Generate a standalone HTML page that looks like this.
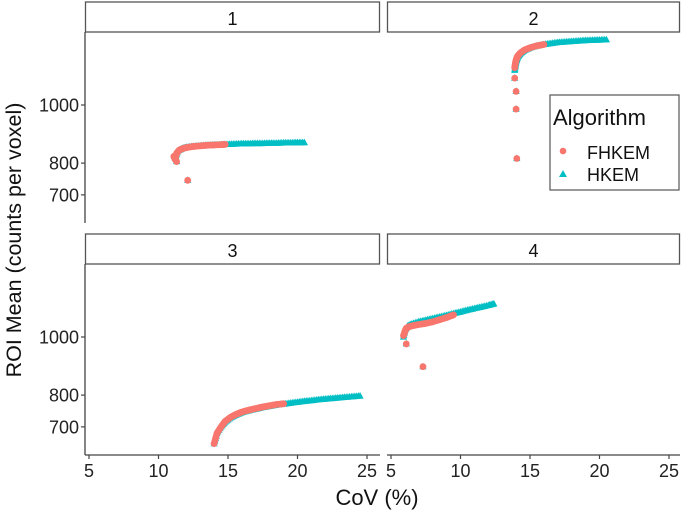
<!DOCTYPE html>
<html><head><meta charset="utf-8"><style>
html,body{margin:0;padding:0;background:#fff}
svg{display:block}
text{font-family:"Liberation Sans",Arial,sans-serif}
</style></head><body>
<svg id="chart" width="685" height="513" viewBox="0 0 685 513">
<g id="frame"></g>
<g id="marks"></g>
<g id="legend">
<rect x="550" y="95" width="129" height="95" fill="#fff" stroke="#555" stroke-width="1.2"/>
<text x="553" y="125" font-size="22" fill="#111">Algorithm</text>
<circle cx="563" cy="151" r="3.3" fill="#F8766D"/>
<text x="587" y="159" font-size="18" fill="#111">FHKEM</text>
<polygon points="563,170 567,177 559,177" fill="#00BFC4"/>
<text x="587" y="181" font-size="18" fill="#111">HKEM</text>
</g>
<text x="377" y="505" font-size="22" text-anchor="middle" fill="#111">CoV (%)</text>
<text transform="translate(21,240) rotate(-90)" font-size="21.5" text-anchor="middle" fill="#111">ROI Mean (counts per voxel)</text>
</svg>
<script>
const panels = ["1","2","3","4"];
const xTicks = [5,10,15,20,25];
const yTicks = [700,800,1000];
// panel 1
const p1HkX = [11.2,11.4,11.7,12.0,12.5,13.0,13.5,14.0,14.5,15.0,15.5,16.0,16.5,17.0,17.5,18.0,18.5,19.0,19.5,20.0,20.5];
const p1HkY = [815,840,848,852,855,857,859,860,861,862,863,864,864,865,865,866,866,867,867,868,868];
const p1FhX = [11.1,11.2,11.3,11.5,11.8,12.1,12.5,13.0,13.5,14.0,14.5,14.8];
const p1FhY = [822,812,832,843,849,852,855,857,859,860,861,862];
const p1OutX = [11.3,12.1];
const p1OutY = [805,745];
// panel 2
const p2HkX = [13.9,13.95,14.0,14.1,14.3,14.6,15.0,15.5,16.0,16.5,17.0,17.5,18.0,18.5,19.0,19.5,20.0,20.5];
const p2HkY = [1130,1150,1165,1180,1195,1208,1218,1226,1232,1236,1240,1242,1244,1246,1248,1249,1250,1251];
const p2FhX = [13.9,13.95,14.0,14.1,14.3,14.6,15.0,15.5,16.0];
const p2FhY = [1140,1158,1170,1185,1198,1210,1219,1227,1232];
const p2OutX = [13.9,14.0,14.0,14.05];
const p2OutY = [1100,1050,985,815];
// panel 3
const p3HkX = [14.0,14.2,14.5,14.8,15.2,15.6,16.0,16.5,17.0,17.5,18.0,18.5,19.0,19.5,20.0,20.5,21.0,21.5,22.0,22.5,23.0,23.5,24.0,24.5];
const p3HkY = [650,680,700,715,728,737,744,750,755,760,764,768,771,774,777,780,782,785,787,789,791,793,795,797];
const p3FhX = [14.0,14.2,14.5,14.8,15.2,15.6,16.0,16.5,17.0,17.5,18.0,18.5,19.0];
const p3FhY = [650,680,700,717,730,739,746,752,757,762,766,770,772];
// panel 4
const p4HkX = [5.9,6.0,6.2,6.5,7.0,7.5,8.0,8.5,9.0,9.5,10.0,10.5,11.0,11.5,12.0,12.4];
const p4HkY = [1000,1025,1040,1048,1056,1062,1068,1074,1080,1087,1093,1100,1106,1112,1118,1124];
const p4FhX = [5.9,6.0,6.1,6.3,6.6,7.0,7.5,8.0,8.5,9.0,9.5];
const p4FhY = [1005,1020,1032,1038,1042,1046,1050,1056,1064,1072,1082];
const p4OutX = [6.1,7.3];
const p4OutY = [975,895];

const NS="http://www.w3.org/2000/svg";
const frame=document.getElementById('frame'), marks=document.getElementById('marks');
const P=[{x0:85,x1:380,y0:32,y1:223,sy:2},{x0:387,x1:680,y0:32,y1:223,sy:2},{x0:85,x1:380,y0:264,y1:455,sy:234},{x0:387,x1:680,y0:264,y1:455,sy:234}];
function xs(p,v){return p.x0+4+(v-5)*13.9;}
function ys(p,v){const y1000=p.y0+73;return y1000-(Math.sqrt(v)-Math.sqrt(1000))*17.4;}
function mk(tag,attrs,parent){const e=document.createElementNS(NS,tag);for(const k in attrs)e.setAttribute(k,attrs[k]);parent.appendChild(e);return e;}
P.forEach((p,i)=>{
  const s=mk('rect',{x:p.x0+0.5,y:p.sy,width:p.x1-p.x0-1,height:30,fill:'#fff',stroke:'#555','stroke-width':1.3},frame);
  
  
  const t=mk('text',{x:(p.x0+p.x1)/2,y:p.sy+23,'font-size':18,'text-anchor':'middle',fill:'#111'},frame);
  t.textContent=panels[i];
  
  
  if(i%2===0){
    const a=mk('line',{x1:p.x0,x2:p.x0,y1:p.y0,y2:p.y1,stroke:'#444','stroke-width':1.3},frame);
    
    
    yTicks.forEach(v=>{
      const y=ys(p,v);
      mk('line',{x1:p.x0-4,x2:p.x0,y1:y,y2:y,stroke:'#444','stroke-width':1.2},frame);
      const l=mk('text',{x:p.x0-6,y:y+6.5,'font-size':18,'text-anchor':'end',fill:'#222'},frame);
      l.textContent=v;
      
      
    });
  }
  if(i>=2){
    const a=mk('line',{x1:p.x0,x2:p.x1,y1:p.y1,y2:p.y1,stroke:'#444','stroke-width':1.3},frame);
    
    
    xTicks.forEach(v=>{
      const x=xs(p,v);
      mk('line',{x1:x,x2:x,y1:p.y1,y2:p.y1+4,stroke:'#444','stroke-width':1.2},frame);
      const l=mk('text',{x:x,y:p.y1+22,'font-size':18,'text-anchor':'middle',fill:'#222'},frame);
      l.textContent=v;
      
      
    });
  }
});
function tri(p,xa,ya,name){xa.forEach((v,k)=>{const x=xs(p,v),y=ys(p,ya[k]);
  const e=mk('polygon',{points:`${x},${y-4} ${x+3.6},${y+2.6} ${x-3.6},${y+2.6}`,fill:'#00BFC4'},marks);
  
  });}
function dot(p,xa,ya,name){xa.forEach((v,k)=>{const x=xs(p,v),y=ys(p,ya[k]);
  const e=mk('circle',{cx:x,cy:y,r:3.4,fill:'#F8766D'},marks);
  
  });}
function densify(xa,ya){const X=[],Y=[];for(let k=0;k<xa.length-1;k++){for(let j=0;j<4;j++){const t=j/4;X.push(xa[k]+(xa[k+1]-xa[k])*t);Y.push(ya[k]+(ya[k+1]-ya[k])*t);}}X.push(xa[xa.length-1]);Y.push(ya[ya.length-1]);return [X,Y];}
const series=[[0,p1HkX,p1HkY,p1FhX,p1FhY,p1OutX,p1OutY],[1,p2HkX,p2HkY,p2FhX,p2FhY,p2OutX,p2OutY],[2,p3HkX,p3HkY,p3FhX,p3FhY,[],[]],[3,p4HkX,p4HkY,p4FhX,p4FhY,p4OutX,p4OutY]];
series.forEach(([i,hx,hy,fx,fy,ox,oy])=>{
  const p=P[i];
  const [HX,HY]=densify(hx,hy);tri(p,HX,HY,'hkem-point');
  tri(p,ox,oy,'hkem-point');
  const [FX,FY]=densify(fx,fy);dot(p,FX,FY,'fhkem-point');
  dot(p,ox,oy,'fhkem-point');
});
</script>
</body></html>
